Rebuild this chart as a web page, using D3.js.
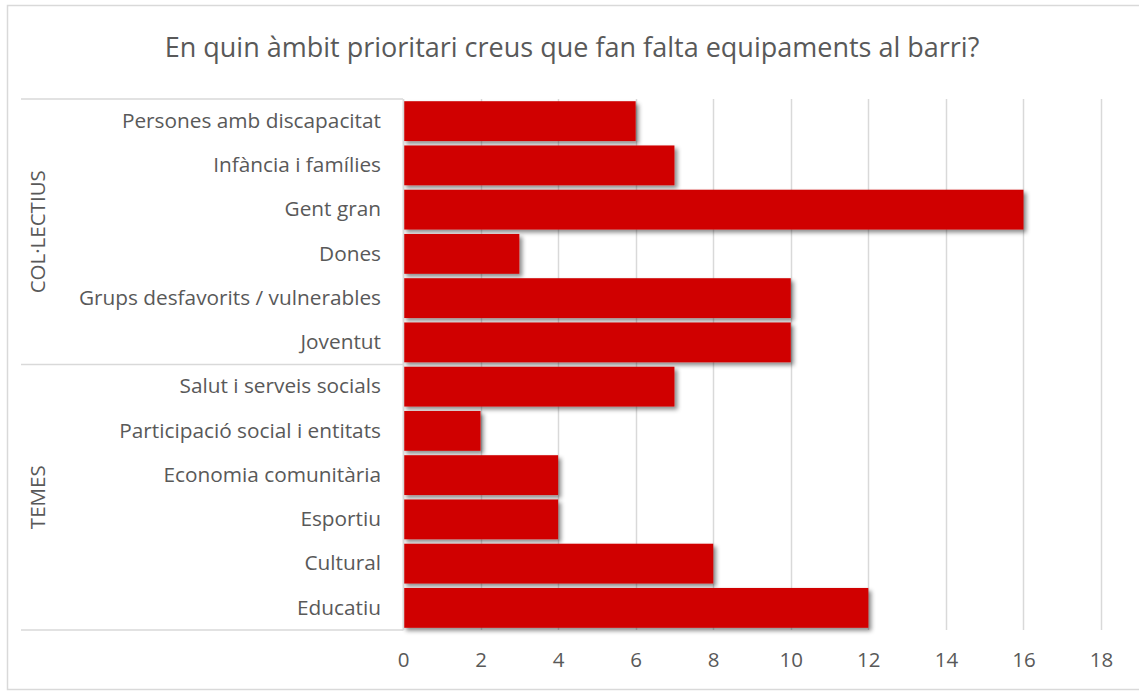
<!DOCTYPE html>
<html>
<head>
<meta charset="utf-8">
<script src="https://cdn.jsdelivr.net/npm/d3@7"></script>
<style>
  body { margin: 0; background: #fff; }
  text { font-family: "Open Sans", sans-serif; fill: #595959; }
</style>
</head>
<body>
<div id="chart"></div>
<script>
var width = 1139;
var height = 693;

// chart data, top to bottom
var categories = [
  "Persones amb discapacitat", "Infància i famílies", "Gent gran", "Dones",
  "Grups desfavorits / vulnerables", "Joventut",
  "Salut i serveis socials", "Participació social i entitats", "Economia comunitària",
  "Esportiu", "Cultural", "Educatiu"
];
var values = [6, 7, 16, 3, 10, 10, 7, 2, 4, 4, 8, 12];
var groups = ["COL·LECTIUS", "TEMES"];
var groupSizes = [6, 6];
var ticks = [0, 2, 4, 6, 8, 10, 12, 14, 16, 18];
var title = "En quin àmbit prioritari creus que fan falta equipaments al barri?";

var margin = { top: 99, left: 403, right: 38, bottom: 63 };

var svg = d3.select("#chart")
  .append("svg")
  .attr("width", width)
  .attr("height", height);

// drop shadow for the bars
var filter = svg.append("defs").append("filter")
  .attr("id", "shadow")
  .attr("x", "-5%").attr("y", "-20%")
  .attr("width", "115%").attr("height", "150%");
filter.append("feDropShadow")
  .attr("dx", 3).attr("dy", 3)
  .attr("stdDeviation", 2)
  .attr("flood-color", "#000")
  .attr("flood-opacity", 0.45);

// outer border
svg.append("rect")
  .attr("x", 7.5).attr("y", 5.5)
  .attr("width", 1140).attr("height", 684)
  .attr("fill", "none")
  .attr("stroke", "#d9d9d9")
  .attr("stroke-width", 1.5);

svg.append("text")
  .attr("x", 572)
  .attr("y", 57)
  .attr("text-anchor", "middle")
  .style("font-size", "27px")
  .text(title);

var x = d3.scaleLinear()
  .domain([0, 18])
  .range([margin.left, width - margin.right]);

var y = d3.scaleBand()
  .domain(categories)
  .range([margin.top, height - margin.bottom])
  .paddingInner(0.1)
  .paddingOuter(0.05);

var band = (height - margin.bottom - margin.top) / categories.length;

// vertical gridlines
svg.append("g")
  .selectAll("line")
  .data(ticks)
  .enter()
  .append("line")
  .attr("x1", function(d) { return Math.round(x(d)) + 0.5; })
  .attr("x2", function(d) { return Math.round(x(d)) + 0.5; })
  .attr("y1", margin.top)
  .attr("y2", height - margin.bottom)
  .attr("stroke", "#d9d9d9")
  .attr("stroke-width", 1.5);

// group separators in the label area
var bounds = [0];
groupSizes.forEach(function(n, i) { bounds.push(bounds[i] + n); });
svg.append("g")
  .selectAll("line")
  .data(bounds)
  .enter()
  .append("line")
  .attr("x1", 21)
  .attr("x2", margin.left)
  .attr("y1", function(d) { return margin.top + d * band; })
  .attr("y2", function(d) { return margin.top + d * band; })
  .attr("stroke", "#d9d9d9")
  .attr("stroke-width", 1.5);

// group labels
svg.append("g")
  .selectAll("text")
  .data(groups)
  .enter()
  .append("text")
  .attr("transform", function(d, i) {
    var cy = margin.top + (bounds[i] + bounds[i + 1]) / 2 * band;
    return "translate(45," + cy + ") rotate(-90)";
  })
  .attr("text-anchor", "middle")
  .style("font-size", "20.5px")
  .text(function(d) { return d; });

// bars
svg.append("g")
  .selectAll("rect")
  .data(values)
  .enter()
  .append("rect")
  .attr("x", x(0))
  .attr("y", function(d, i) { return y(categories[i]); })
  .attr("width", function(d) { return x(d) - x(0); })
  .attr("height", y.bandwidth())
  .attr("fill", "#d00000")
  .attr("filter", "url(#shadow)");

// category axis
var yAxis = d3.axisLeft(y).tickSize(0).tickPadding(22);
var gy = svg.append("g")
  .attr("transform", "translate(" + margin.left + ",0)")
  .call(yAxis);
gy.select(".domain").attr("stroke", "#d9d9d9").attr("stroke-width", 1.5);
gy.selectAll("text").style("font-size", "20.8px").attr("fill", "#595959");

// value axis
var xAxis = d3.axisBottom(x).tickValues(ticks).tickSize(0).tickPadding(22);
var gx = svg.append("g")
  .attr("transform", "translate(0," + (height - margin.bottom) + ")")
  .call(xAxis);
gx.select(".domain").remove();
gx.selectAll("text").style("font-size", "20.5px").attr("fill", "#595959");
</script>
</body>
</html>
